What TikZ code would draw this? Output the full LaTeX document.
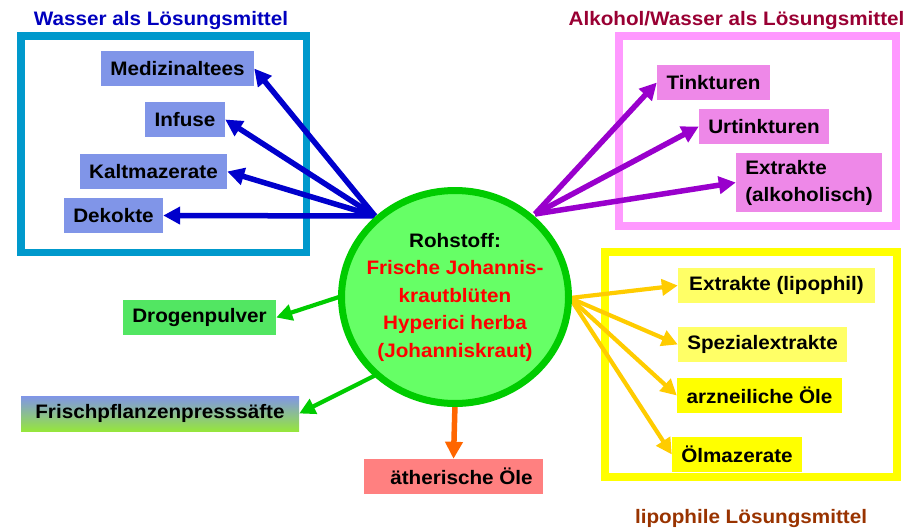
\documentclass[tikz,border=0pt]{standalone}
\usepackage{fontspec}
\setmainfont{Liberation Sans}[FakeStretch=1.06]
\usetikzlibrary{arrows.meta,shapes.geometric}
\definecolor{wblue}{RGB}{0,0,190}
\definecolor{ared}{RGB}{153,0,51}
\definecolor{lbrown}{RGB}{153,51,0}
\definecolor{bframe}{RGB}{0,153,204}
\definecolor{pframe}{RGB}{255,153,255}
\definecolor{yframe}{RGB}{255,255,0}
\definecolor{bfill}{RGB}{128,149,232}
\definecolor{pfill}{RGB}{238,136,232}
\definecolor{ylight}{RGB}{255,255,102}
\definecolor{ybright}{RGB}{255,255,0}
\definecolor{gfill}{RGB}{82,230,98}
\definecolor{rfill}{RGB}{255,128,128}
\definecolor{fgreen}{RGB}{150,230,60}
\definecolor{cfill}{RGB}{102,255,102}
\definecolor{cline}{RGB}{0,204,0}
\definecolor{barr}{RGB}{0,0,204}
\definecolor{parr}{RGB}{153,0,204}
\definecolor{yarr}{RGB}{255,204,0}
\definecolor{garr}{RGB}{0,204,0}
\definecolor{oarr}{RGB}{255,102,0}
\begin{document}
\begin{tikzpicture}[x=1pt,y=-1pt,
  every node/.style={font=\fontsize{19.5}{24}\selectfont\bfseries},
  bx/.style={rectangle, minimum height=35pt, inner sep=0pt, text=black},
  arr/.style={line width=5.5pt, -{Triangle[length=17pt,width=17pt]}},
  thinarr/.style={line width=4.2pt, -{Triangle[length=16pt,width=16pt]}},
  frame/.style={line width=8pt}]
\useasboundingbox (0,0) rectangle (923,530);
% titles
\node[text=wblue, anchor=base] (t1) at (161,25) {Wasser als Lösungsmittel};
\node[text=ared, anchor=base] (t2) at (736.5,25) {Alkohol/Wasser als Lösungsmittel};
\node[text=lbrown, anchor=base] (t3) at (751,523) {lipophile Lösungsmittel};
% frames
\draw[frame, line width=7.5pt, draw=bframe] (20.75,35.75) rectangle (306.25,252.25);
\draw[frame, draw=pframe] (619,36) rectangle (896,226);
\draw[frame, draw=yframe] (605,252) rectangle (897,477);
% boxes
\node[bx, fill=bfill, minimum width=153pt] (med) at (177.5,68.5) {Medizinaltees};
\node[bx, fill=bfill, minimum width=80pt] (inf) at (185,119.5) {Infuse};
\node[bx, fill=bfill, minimum width=147pt] (kal) at (153.5,171.5) {Kaltmazerate};
\node[bx, fill=bfill, minimum width=99pt] (dek) at (113.5,215.5) {Dekokte};
\node[bx, fill=pfill, minimum width=113pt] (tin) at (713.5,82.5) {Tinkturen};
\node[bx, fill=pfill, minimum width=130pt] (urt) at (764,126.5) {Urtinkturen};
\node[bx, fill=pfill, minimum width=146pt, minimum height=59pt, align=left,
  font=\fontsize{19.5}{27}\selectfont\bfseries] (exa) at (809,182.5) {Extrakte\\(alkoholisch)};
\node[bx, fill=ylight, minimum width=197pt] (exl) at (776.5,285.5) {Extrakte (lipophil)};
\node[bx, fill=ylight, minimum width=169pt] (spe) at (762.5,344.5) {Spezialextrakte};
\node[bx, fill=ybright, minimum width=165pt] (arz) at (759.5,395.5) {arzneiliche Öle};
\node[bx, fill=ybright, minimum width=130pt] (olm) at (737,454.5) {Ölmazerate};
\node[bx, fill=gfill, minimum width=153pt] (dro) at (199.5,317.5) {Drogenpulver};
\node[bx, top color=bfill, bottom color=fgreen, minimum width=278pt] (fri) at (160,413.5) {Frischpflanzenpresssäfte};
\node[bx, fill=rfill, minimum width=179pt] (aet) at (453.5,476.5) {\hspace{16pt}ätherische Öle};
% arrow sources
\coordinate (bsrc) at (375,216);
\coordinate (psrc) at (535,214);
\coordinate (ysrc) at (570,298);
\coordinate (gsrc1) at (339,297);
\coordinate (gsrc2) at (376,375);
\coordinate (osrc) at (455,404);
% arrows
\draw[arr, barr] (bsrc) -- (med.east);
\draw[arr, barr] (bsrc) -- (inf.east);
\draw[arr, barr] (bsrc) -- (kal.east);
\draw[arr, barr] (bsrc) -- (dek.east);
\draw[arr, parr] (psrc) -- (tin.west);
\draw[arr, parr] (psrc) -- (urt.west);
\draw[arr, parr] (psrc) -- (exa.west);
\draw[thinarr, yarr] (ysrc) -- (exl.west);
\draw[thinarr, yarr] (ysrc) -- (spe.west);
\draw[thinarr, yarr] (ysrc) -- (arz.west);
\draw[thinarr, yarr] (ysrc) -- (olm.west);
\draw[thinarr, garr] (gsrc1) -- (dro.east);
\draw[thinarr, garr] (gsrc2) -- (fri.east);
\draw[arr, oarr] (osrc) -- (aet.north);
% central ellipse
\node[ellipse, draw=cline, line width=7pt, fill=cfill, minimum width=227pt, minimum height=213pt,
  inner sep=0pt] (roh) at (455,297) {};
\node[align=center, text=red, inner sep=0pt, font=\fontsize{19.5}{27.5}\selectfont\bfseries] (rohtxt) at (roh.center)
  {\textcolor{black}{Rohstoff:}\\Frische Johannis-\\krautblüten\\Hyperici herba\\(Johanniskraut)};
\end{tikzpicture}
\end{document}
